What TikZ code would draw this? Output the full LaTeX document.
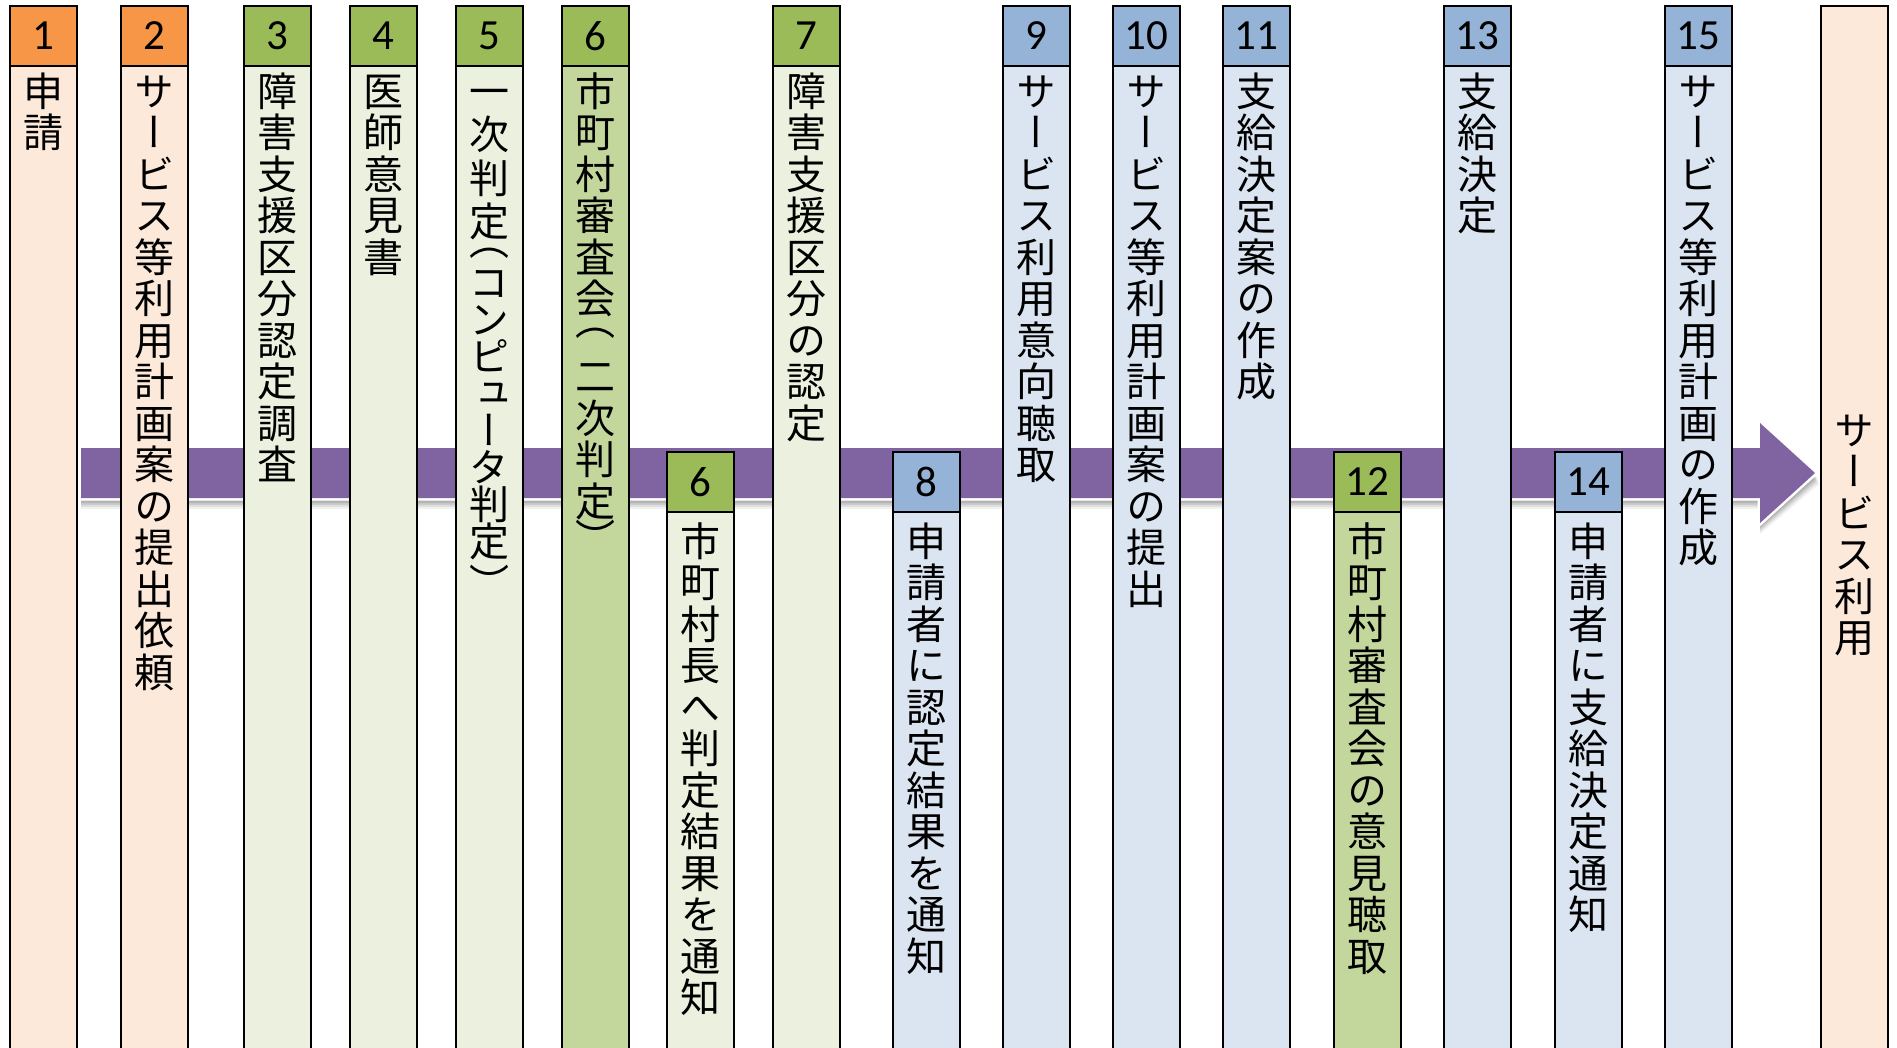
\documentclass[tikz,border=0pt]{standalone}
\usepackage{fontspec}
\newfontfamily\jp{Noto Sans CJK JP}[RawFeature=+vert]
\newfontfamily\numf{Carlito}
\definecolor{orH}{HTML}{F79646}
\definecolor{orL}{HTML}{FDE9D9}
\definecolor{grH}{HTML}{9BBB59}
\definecolor{grL}{HTML}{EBF1DE}
\definecolor{grM}{HTML}{C3D69B}
\definecolor{blH}{HTML}{95B3D7}
\definecolor{blL}{HTML}{DBE5F1}
\definecolor{arrowP}{HTML}{8064A2}
\ExplSyntaxOn
\NewDocumentCommand\vtext{m}{
  \seq_clear:N \l_tmpa_seq
  \tl_map_inline:nn {#1} { \seq_put_right:Nn \l_tmpa_seq {##1} }
  \seq_use:Nn \l_tmpa_seq {\\}
}
\ExplSyntaxOff
\tikzset{
  hdrbox/.style={draw=black, line width=1.4pt, minimum width=67, minimum height=60,
    inner sep=0, outer sep=0, anchor=north west, font=\numf\fontsize{43}{45}\selectfont},
  bodybox/.style={draw=black, line width=1.4pt, minimum width=67,
    inner sep=0, outer sep=0, anchor=north west},
  vtxt/.style={anchor=north, inner sep=0, align=center, font=\jp\fontsize{40}{41.5}\selectfont},
}
% #1 name, #2 x, #3 ytop, #4 header colour, #5 body colour, #6 number, #7 text, #8 text gap
\newcommand\stepcol[8]{%
  \node[bodybox, fill=#5, minimum height={1070-#3-60}] (#1b) at (#2,#3+60) {};
  \node[hdrbox, fill=#4] (#1h) at (#2,#3) {#6};
  \node[vtxt] (#1t) at ([yshift=-#8]#1b.north) {\rule{0pt}{35pt}#7};
}
\begin{document}
\begin{tikzpicture}[x=1pt,y=-1pt]
\path[use as bounding box] (0,0) rectangle (1897,1048);
\clip (0,0) rectangle (1897,1048);
\fill[white] (0,0) rectangle (1897,1048);
% arrow with soft shadow
\foreach \o/\a in {11/0.05,9/0.07,7/0.09,5/0.11}{
  \fill[black, opacity=\a] (81,448+\o) -- (1760,448+\o) -- (1760,423+\o) -- (1815+\o*0.4,473+\o) -- (1760,523+\o) -- (1760,498+\o) -- (81,498+\o) -- cycle;
}
\draw[white, line width=5pt, line join=miter, fill=arrowP] (81,448) -- (1760,448) -- (1760,423) -- (1815,473) -- (1760,523) -- (1760,498) -- (81,498) -- cycle;
\fill[arrowP] (81,448) -- (1760,448) -- (1760,423) -- (1815,473) -- (1760,523) -- (1760,498) -- (81,498) -- cycle;
% columns
\stepcol{c1}{10}{6}{orH}{orL}{1}{\vtext{申請}}{5}
\stepcol{c2}{121}{6}{orH}{orL}{2}{\vtext{サービス等利用計画案の提出依頼}}{5}
\stepcol{c3}{244}{6}{grH}{grL}{3}{\vtext{障害支援区分認定調査}}{5}
\stepcol{c4}{350}{6}{grH}{grL}{4}{\vtext{医師意見書}}{5}
\stepcol{c5}{456}{6}{grH}{grL}{5}{一\\[2pt]次\\[2pt]判\\[2pt]定\\[-23pt]︵\\[1pt]コ\\[-4.5pt]ン\\[-4.5pt]ピ\\[-4.5pt]ュ\\[-4.5pt]ー\\[-4.5pt]タ\\[-4.5pt]判\\[-4.5pt]定\\︶}{5}
\stepcol{c6}{562}{6}{grH}{grM}{6}{市\\町\\村\\審\\査\\会\\[-20pt]︵\\[15pt]二\\次\\判\\定\\[-4pt]︶}{5}
\stepcol{c6l}{667}{452}{grH}{grL}{6}{\vtext{市町村長へ判定結果を通知}}{9}
\stepcol{c7}{773}{6}{grH}{grL}{7}{\vtext{障害支援区分の認定}}{5}
\stepcol{c8}{893}{452}{blH}{blL}{8}{\vtext{申請者に認定結果を通知}}{9}
\stepcol{c9}{1003}{6}{blH}{blL}{9}{\vtext{サービス利用意向聴取}}{5}
\stepcol{c10}{1113}{6}{blH}{blL}{10}{\vtext{サービス等利用計画案の提出}}{5}
\stepcol{c11}{1223}{6}{blH}{blL}{11}{\vtext{支給決定案の作成}}{5}
\stepcol{c12}{1334}{452}{grH}{grM}{12}{\vtext{市町村審査会の意見聴取}}{9}
\stepcol{c13}{1444}{6}{blH}{blL}{13}{\vtext{支給決定}}{5}
\stepcol{c14}{1555}{452}{blH}{blL}{14}{\vtext{申請者に支給決定通知}}{9}
\stepcol{c15}{1665}{6}{blH}{blL}{15}{\vtext{サービス等利用計画の作成}}{5}
% final column
\node[bodybox, fill=orL, minimum height=1070] (fin) at (1821,6) {};
\node[vtxt] (fint) at ([yshift=-404]fin.north) {\rule{0pt}{35pt}\vtext{サービス利用}};
\end{tikzpicture}
\end{document}
